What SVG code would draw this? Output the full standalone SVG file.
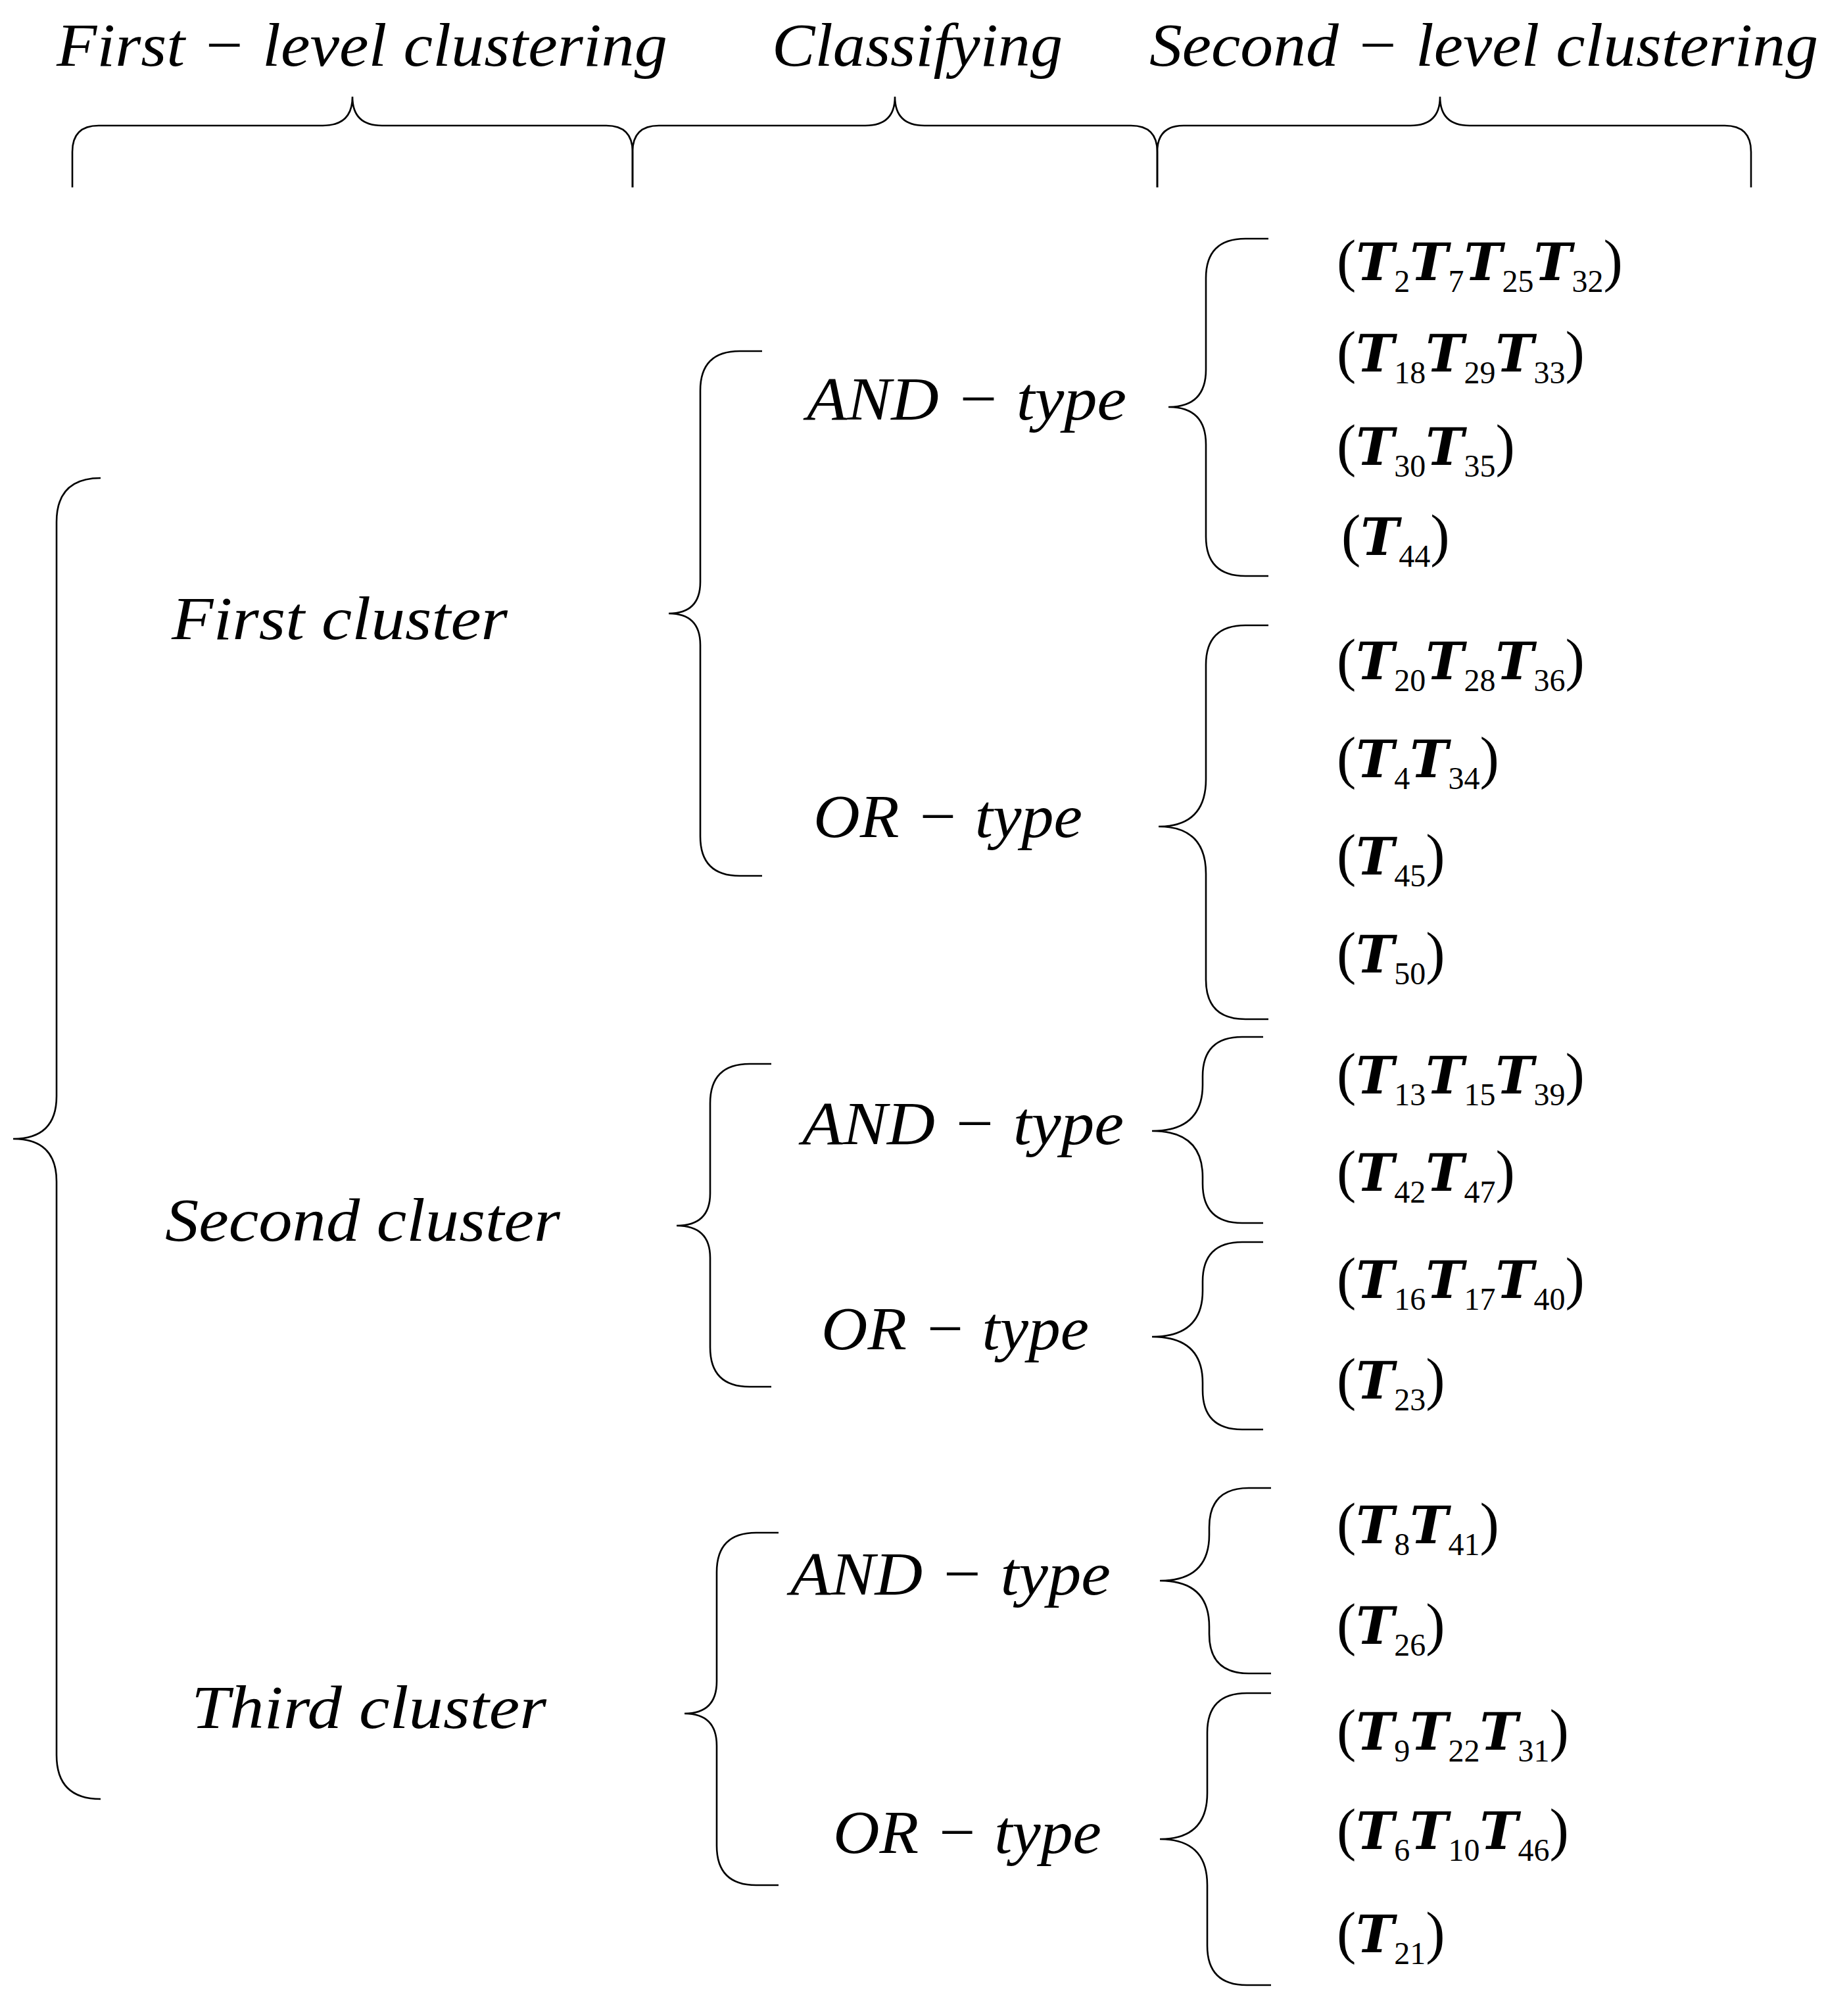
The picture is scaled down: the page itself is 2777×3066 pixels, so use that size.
<svg xmlns="http://www.w3.org/2000/svg" width="2777" height="3066" viewBox="0 0 2777 3066">
<style>
.b{fill:none;stroke:#000;stroke-width:2.6}
.h{font-family:"Liberation Serif",serif;font-style:italic;font-size:94px;fill:#000}
.it{font-family:"Liberation Serif",serif;font-size:88px;fill:#000}
.T{font-family:"DejaVu Serif",serif;font-style:italic;font-weight:bold;font-size:78px}
.s{font-size:48px}
</style>
<rect width="2777" height="3066" fill="#fff"/>
<g id="headers">
<text class="h" x="86" y="100" textLength="929" lengthAdjust="spacingAndGlyphs">First − level  clustering</text>
<text class="h" x="1174" y="100" textLength="442" lengthAdjust="spacingAndGlyphs">Classifying</text>
<text class="h" x="1748" y="100" textLength="1017" lengthAdjust="spacingAndGlyphs">Second − level  clustering</text>
</g>
<g id="connectors">
<path class="b" d="M110 285 L110 231 Q110 191 150 191 L491 191 Q536 191 536 147 Q536 191 581 191 L922 191 Q962 191 962 231 L962 285"/>
<path class="b" d="M962 285 L962 231 Q962 191 1002 191 L1316 191 Q1361 191 1361 147 Q1361 191 1406 191 L1720 191 Q1760 191 1760 231 L1760 285"/>
<path class="b" d="M1760 285 L1760 231 Q1760 191 1800 191 L2145 191 Q2190 191 2190 147 Q2190 191 2235 191 L2623 191 Q2663 191 2663 231 L2663 285"/>
<path class="b" d="M153 727 Q86 727 86 794 L86 1667 Q86 1732 20 1732 Q86 1732 86 1797 L86 2669 Q86 2736 153 2736"/>
<path class="b" d="M1159 534 L1125 534 Q1065 534 1065 594 L1065 885 Q1065 933 1017 933 Q1065 933 1065 981 L1065 1272 Q1065 1332 1125 1332 L1159 1332"/>
<path class="b" d="M1173 1618 L1140 1618 Q1080 1618 1080 1678 L1080 1815 Q1080 1864 1029 1864 Q1080 1864 1080 1913 L1080 2049 Q1080 2109 1140 2109 L1173 2109"/>
<path class="b" d="M1184 2331 L1150 2331 Q1090 2331 1090 2391 L1090 2557 Q1090 2606 1041 2606 Q1090 2606 1090 2655 L1090 2807 Q1090 2867 1150 2867 L1184 2867"/>
<path class="b" d="M1929 363 L1894 363 Q1834 363 1834 423 L1834 562 Q1834 619 1777 619 Q1834 619 1834 676 L1834 816 Q1834 876 1894 876 L1929 876"/>
<path class="b" d="M1929 951 L1894 951 Q1834 951 1834 1011 L1834 1185 Q1834 1257 1762 1257 Q1834 1257 1834 1329 L1834 1490 Q1834 1550 1894 1550 L1929 1550"/>
<path class="b" d="M1921 1577 L1889 1577 Q1829 1577 1829 1637 L1829 1650 Q1829 1720 1752 1720 Q1829 1720 1829 1790 L1829 1800 Q1829 1860 1889 1860 L1921 1860"/>
<path class="b" d="M1921 1889 L1889 1889 Q1829 1889 1829 1949 L1829 1963 Q1829 2033 1752 2033 Q1829 2033 1829 2103 L1829 2114 Q1829 2174 1889 2174 L1921 2174"/>
<path class="b" d="M1933 2263 L1899 2263 Q1839 2263 1839 2323 L1839 2334 Q1839 2404 1764 2404 Q1839 2404 1839 2474 L1839 2485 Q1839 2545 1899 2545 L1933 2545"/>
<path class="b" d="M1933 2575 L1896 2575 Q1836 2575 1836 2635 L1836 2727 Q1836 2797 1764 2797 Q1836 2797 1836 2867 L1836 2959 Q1836 3019 1896 3019 L1933 3019"/>
</g>
<g id="clusters">
<text class="h" x="261" y="972" textLength="511" lengthAdjust="spacingAndGlyphs">First  cluster</text>
<text class="h" x="251" y="1887" textLength="601" lengthAdjust="spacingAndGlyphs">Second  cluster</text>
<text class="h" x="291" y="2628" textLength="540" lengthAdjust="spacingAndGlyphs">Third  cluster</text>
</g>
<g id="types">
<text class="h" x="1227" y="638" textLength="486" lengthAdjust="spacingAndGlyphs">AND − type</text>
<text class="h" x="1237" y="1273" textLength="409" lengthAdjust="spacingAndGlyphs">OR − type</text>
<text class="h" x="1220" y="1740" textLength="489" lengthAdjust="spacingAndGlyphs">AND − type</text>
<text class="h" x="1249" y="2052" textLength="407" lengthAdjust="spacingAndGlyphs">OR − type</text>
<text class="h" x="1202" y="2425" textLength="487" lengthAdjust="spacingAndGlyphs">AND − type</text>
<text class="h" x="1267" y="2818" textLength="408" lengthAdjust="spacingAndGlyphs">OR − type</text>
</g>
<g id="tuples" class="it">
<text x="2033" y="426">(<tspan class="T">T</tspan><tspan class="s" dy="18">2</tspan><tspan class="T" dy="-18">T</tspan><tspan class="s" dy="18">7</tspan><tspan class="T" dy="-18">T</tspan><tspan class="s" dy="18">25</tspan><tspan class="T" dy="-18">T</tspan><tspan class="s" dy="18">32</tspan><tspan dy="-18">)</tspan></text>
<text x="2033" y="565">(<tspan class="T">T</tspan><tspan class="s" dy="18">18</tspan><tspan class="T" dy="-18">T</tspan><tspan class="s" dy="18">29</tspan><tspan class="T" dy="-18">T</tspan><tspan class="s" dy="18">33</tspan><tspan dy="-18">)</tspan></text>
<text x="2033" y="707">(<tspan class="T">T</tspan><tspan class="s" dy="18">30</tspan><tspan class="T" dy="-18">T</tspan><tspan class="s" dy="18">35</tspan><tspan dy="-18">)</tspan></text>
<text x="2040" y="844">(<tspan class="T">T</tspan><tspan class="s" dy="18">44</tspan><tspan dy="-18">)</tspan></text>
<text x="2033" y="1033">(<tspan class="T">T</tspan><tspan class="s" dy="18">20</tspan><tspan class="T" dy="-18">T</tspan><tspan class="s" dy="18">28</tspan><tspan class="T" dy="-18">T</tspan><tspan class="s" dy="18">36</tspan><tspan dy="-18">)</tspan></text>
<text x="2033" y="1182">(<tspan class="T">T</tspan><tspan class="s" dy="18">4</tspan><tspan class="T" dy="-18">T</tspan><tspan class="s" dy="18">34</tspan><tspan dy="-18">)</tspan></text>
<text x="2033" y="1330">(<tspan class="T">T</tspan><tspan class="s" dy="18">45</tspan><tspan dy="-18">)</tspan></text>
<text x="2033" y="1479">(<tspan class="T">T</tspan><tspan class="s" dy="18">50</tspan><tspan dy="-18">)</tspan></text>
<text x="2033" y="1663">(<tspan class="T">T</tspan><tspan class="s" dy="18">13</tspan><tspan class="T" dy="-18">T</tspan><tspan class="s" dy="18">15</tspan><tspan class="T" dy="-18">T</tspan><tspan class="s" dy="18">39</tspan><tspan dy="-18">)</tspan></text>
<text x="2033" y="1811">(<tspan class="T">T</tspan><tspan class="s" dy="18">42</tspan><tspan class="T" dy="-18">T</tspan><tspan class="s" dy="18">47</tspan><tspan dy="-18">)</tspan></text>
<text x="2033" y="1974">(<tspan class="T">T</tspan><tspan class="s" dy="18">16</tspan><tspan class="T" dy="-18">T</tspan><tspan class="s" dy="18">17</tspan><tspan class="T" dy="-18">T</tspan><tspan class="s" dy="18">40</tspan><tspan dy="-18">)</tspan></text>
<text x="2033" y="2127">(<tspan class="T">T</tspan><tspan class="s" dy="18">23</tspan><tspan dy="-18">)</tspan></text>
<text x="2033" y="2347">(<tspan class="T">T</tspan><tspan class="s" dy="18">8</tspan><tspan class="T" dy="-18">T</tspan><tspan class="s" dy="18">41</tspan><tspan dy="-18">)</tspan></text>
<text x="2033" y="2500">(<tspan class="T">T</tspan><tspan class="s" dy="18">26</tspan><tspan dy="-18">)</tspan></text>
<text x="2033" y="2661">(<tspan class="T">T</tspan><tspan class="s" dy="18">9</tspan><tspan class="T" dy="-18">T</tspan><tspan class="s" dy="18">22</tspan><tspan class="T" dy="-18">T</tspan><tspan class="s" dy="18">31</tspan><tspan dy="-18">)</tspan></text>
<text x="2033" y="2812">(<tspan class="T">T</tspan><tspan class="s" dy="18">6</tspan><tspan class="T" dy="-18">T</tspan><tspan class="s" dy="18">10</tspan><tspan class="T" dy="-18">T</tspan><tspan class="s" dy="18">46</tspan><tspan dy="-18">)</tspan></text>
<text x="2033" y="2969">(<tspan class="T">T</tspan><tspan class="s" dy="18">21</tspan><tspan dy="-18">)</tspan></text>
</g>
</svg>
